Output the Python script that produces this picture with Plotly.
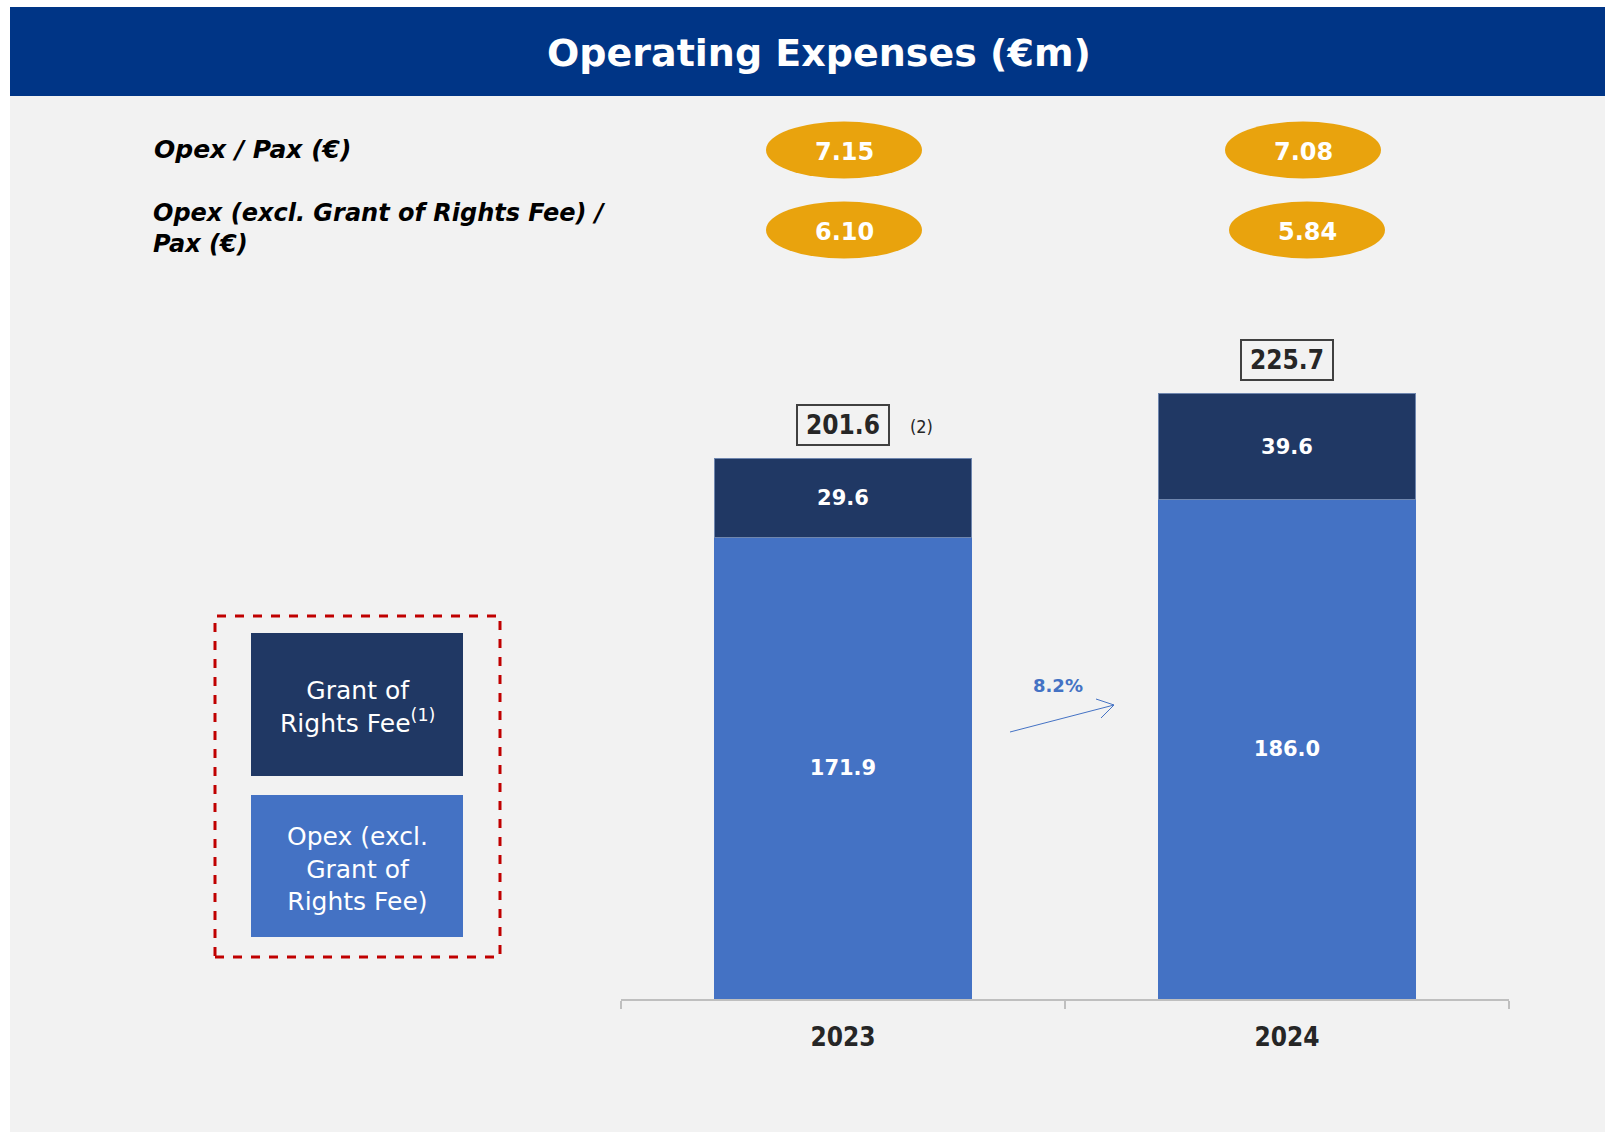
import plotly.graph_objects as go

# ---------------- data ----------------
years = ["2023", "2024"]
opex_excl_grant = [171.9, 186.0]
grant_of_rights = [29.6, 39.6]
totals = [201.6, 225.7]
opex_per_pax = [7.15, 7.08]
opex_excl_per_pax = [6.10, 5.84]
series_names = ["Opex (excl.<br>Grant of<br>Rights Fee)", "Grant of<br>Rights Fee<sup>(1)</sup>"]
row_labels = ["Opex / Pax (€)", "Opex (excl. Grant of Rights Fee) /<br>Pax (€)"]
title_text = "Operating Expenses (€m)"
total_note = "(2)"

# ---------------- style ----------------
W, H = 1605, 1132
NAVY = "#203864"
BLUE = "#4472C4"
GOLD = "#E9A30D"
HEADER = "#003586"
BG = "#F2F2F2"
FONT = "DejaVu Sans"
COND = "DejaVu Sans Condensed, DejaVu Sans"


def px(x):
    return x / W


def py(y):
    return 1 - y / H


fig = go.Figure()
fig.add_trace(go.Bar(
    x=years, y=opex_excl_grant, name="opex", marker=dict(color=BLUE, line=dict(width=0)),
    width=0.58, text=opex_excl_grant, texttemplate="%{y:.1f}", textposition="inside",
    insidetextanchor="middle", constraintext="none", textangle=0,
    textfont=dict(family=FONT, size=21, color="white", weight="bold"), hoverinfo="skip",
))
fig.add_trace(go.Bar(
    x=years, y=grant_of_rights, name="grant", marker=dict(color=NAVY, line=dict(width=1, color="#6F86AE")),
    width=0.58, text=grant_of_rights, texttemplate="%{y:.1f}", textposition="inside",
    insidetextanchor="middle", constraintext="none", textangle=0,
    textfont=dict(family=FONT, size=21, color="white", weight="bold"), hoverinfo="skip",
))

shapes = [
    # gray panel
    dict(type="rect", xref="paper", yref="paper", x0=px(10), x1=1, y0=0, y1=py(96),
         fillcolor=BG, line=dict(width=0), layer="below"),
    # header band
    dict(type="rect", xref="paper", yref="paper", x0=px(10), x1=1, y0=py(96), y1=py(7),
         fillcolor=HEADER, line=dict(width=0), layer="below"),
    # legend frame
    dict(type="rect", xref="paper", yref="paper", x0=px(215), x1=px(500), y0=py(957), y1=py(616),
         line=dict(color="#C00000", width=3, dash="dash"), fillcolor="rgba(0,0,0,0)"),
    dict(type="rect", xref="paper", yref="paper", x0=px(251), x1=px(463), y0=py(776), y1=py(633),
         fillcolor=NAVY, line=dict(width=0)),
    dict(type="rect", xref="paper", yref="paper", x0=px(251), x1=px(463), y0=py(937), y1=py(795),
         fillcolor=BLUE, line=dict(width=0)),
    # growth arrow (shaft + open head)
    dict(type="line", xref="paper", yref="paper", x0=px(1010), y0=py(732), x1=px(1114), y1=py(705),
         line=dict(color=BLUE, width=1)),
    dict(type="line", xref="paper", yref="paper", x0=px(1096), y0=py(699), x1=px(1114), y1=py(705),
         line=dict(color=BLUE, width=1)),
    dict(type="line", xref="paper", yref="paper", x0=px(1101), y0=py(718), x1=px(1114), y1=py(705),
         line=dict(color=BLUE, width=1)),
]

annotations = [
    dict(text=title_text, xref="paper", yref="paper", x=px(819), y=py(53), showarrow=False,
         xanchor="center", yanchor="middle",
         font=dict(family=FONT, size=38, color="white", weight="bold")),
    dict(text=row_labels[0], xref="paper", yref="paper", x=px(152), y=py(149), showarrow=False,
         xanchor="left", yanchor="middle", align="left",
         font=dict(family=FONT, size=25, color="black", weight="bold", style="italic")),
    dict(text=row_labels[1], xref="paper", yref="paper", x=px(151), y=py(228), showarrow=False,
         xanchor="left", yanchor="middle", align="left",
         font=dict(family=FONT, size=24, color="black", weight="bold", style="italic")),
    dict(text=series_names[1], xref="paper", yref="paper", x=px(357), y=py(707), showarrow=False,
         xanchor="center", yanchor="middle", align="center",
         font=dict(family=FONT, size=25, color="white")),
    dict(text=series_names[0], xref="paper", yref="paper", x=px(357), y=py(869), showarrow=False,
         xanchor="center", yanchor="middle", align="center",
         font=dict(family=FONT, size=25, color="white")),
]

# pax ellipses (x anchored on the category index)
ell_dx = [1, 16]
for i, yr in enumerate(years):
    rows = ((opex_per_pax[i], 150, ell_dx[i]),
            (opex_excl_per_pax[i], 230, ell_dx[i] + (0 if i == 0 else 4)))
    for val, cy, dx in rows:
        shapes.append(dict(type="circle", xref="x", yref="paper", xsizemode="pixel", ysizemode="pixel",
                           xanchor=i, yanchor=py(cy), x0=dx - 78, x1=dx + 78, y0=-28.5, y1=28.5,
                           fillcolor=GOLD, line=dict(width=0)))
        annotations.append(dict(text=f"{val:.2f}", xref="x", yref="paper", x=i, xshift=dx, y=py(cy),
                                yshift=-2, showarrow=False, xanchor="center", yanchor="middle",
                                font=dict(family=FONT, size=24, color="white", weight="bold")))

# totals
for i, yr in enumerate(years):
    annotations.append(dict(text=f"{totals[i]:.1f}", x=i, y=totals[i], xref="x", yref="y", yshift=33,
                            showarrow=False, xanchor="center", yanchor="middle",
                            bordercolor="#404040", borderwidth=2, borderpad=2, width=86, height=34,
                            bgcolor=BG,
                            font=dict(family=COND, size=26, color="#262626", weight="bold")))
annotations.append(dict(text=total_note, x=0, y=totals[0], xref="x", yref="y", xshift=78, yshift=31,
                        showarrow=False, xanchor="center", yanchor="middle",
                        font=dict(family=COND, size=18, color="#262626")))

# growth label
growth = (opex_excl_grant[1] / opex_excl_grant[0] - 1) * 100
annotations.append(dict(text=f"{growth:.1f}%", xref="paper", yref="paper", x=px(1058), y=py(685),
                        showarrow=False, xanchor="center", yanchor="middle",
                        font=dict(family=FONT, size=18, color=BLUE, weight="bold")))

fig.update_layout(
    width=W, height=H, margin=dict(l=0, r=0, t=0, b=0),
    paper_bgcolor="white", plot_bgcolor="rgba(0,0,0,0)",
    barmode="stack", bargap=0.42, showlegend=False,
    shapes=shapes, annotations=annotations,
    xaxis=dict(domain=[px(621), px(1509)], type="category", range=[-0.5, 1.5],
               showline=True, linecolor="#BFBFBF", linewidth=2,
               ticks="outside", tickson="boundaries", ticklen=8, tickcolor="#BFBFBF", tickwidth=2,
               ticklabelstandoff=14, showgrid=False, zeroline=False,
               tickfont=dict(family=COND, size=26, color="#262626", weight="bold")),
    yaxis=dict(domain=[py(999), py(193.8)], range=[0, 300], visible=False, showgrid=False),
)

fig.write_html("out.html", config={"displayModeBar": False},
               post_script="document.body.style.margin='0';")
